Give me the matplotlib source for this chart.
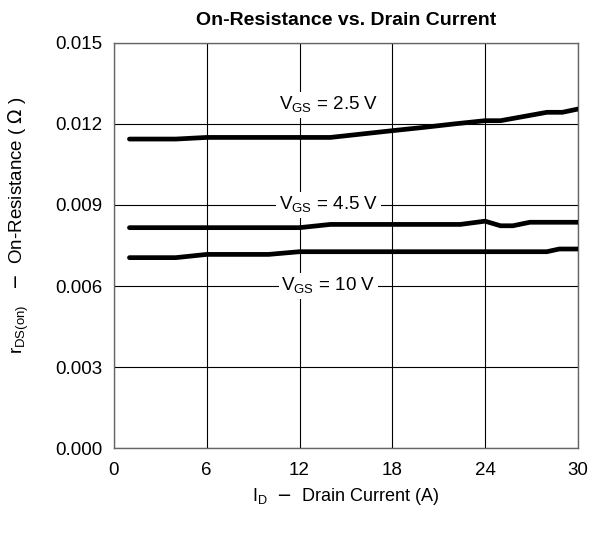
import matplotlib
matplotlib.use("Agg")
import matplotlib.pyplot as plt

plt.rcParams['font.family'] = ['Liberation Sans', 'DejaVu Sans']

# drain current (A) and on-resistance (ohm) for each gate voltage
id_25 = [1, 4, 6, 14, 18, 20, 22, 24, 25, 28, 29, 30]
r_25 = [0.01144, 0.01144, 0.0115, 0.0115, 0.01175, 0.01187, 0.0120, 0.01212, 0.01212, 0.01243, 0.01243, 0.01255]

id_45 = [1, 12, 14, 22.4, 24, 25, 25.8, 26.9, 30]
r_45 = [0.00816, 0.00816, 0.00828, 0.00828, 0.0084, 0.00823, 0.00823, 0.00836, 0.00836]

id_10 = [1, 4, 6, 10, 12, 28, 28.8, 30]
r_10 = [0.00705, 0.00705, 0.00717, 0.00717, 0.00727, 0.00727, 0.00737, 0.00737]

xticks = [0, 6, 12, 18, 24, 30]
yticks = [0.000, 0.003, 0.006, 0.009, 0.012, 0.015]

fs = 13.5

fig = plt.figure(figsize=(5.89, 5.36), dpi=100)
ax = fig.add_axes([0.1935, 0.164, 0.7875, 0.756])

for x, y in [(id_25, r_25), (id_45, r_45), (id_10, r_10)]:
    ax.plot(x, y, color='black', linewidth=3.4, solid_capstyle='round', solid_joinstyle='round', zorder=3)

ax.set_xlim(0, 30)
ax.set_ylim(0, 0.015)
ax.set_xticks(xticks)
ax.set_yticks(yticks)
ax.set_yticklabels(['%.3f' % v for v in yticks])
ax.grid(True, color='black', linewidth=0.8)
ax.tick_params(length=0, labelsize=fs)
ax.tick_params(axis='x', pad=10)
ax.tick_params(axis='y', pad=8)
for s in ax.spines.values():
    s.set_color('#666666')
    s.set_linewidth(1.0)

box = dict(facecolor='white', edgecolor='none', pad=2)
ax.text(13.87, 0.0127, r'V$_{\mathregular{GS}}$ = 2.5 V', ha='center', va='center', fontsize=fs, bbox=box, zorder=2)
ax.text(13.87, 0.0090, r'V$_{\mathregular{GS}}$ = 4.5 V', ha='center', va='center', fontsize=fs, bbox=box, zorder=2)
ax.text(13.87, 0.0060, r'V$_{\mathregular{GS}}$ = 10 V', ha='center', va='center', fontsize=fs, bbox=box, zorder=2)

ax.set_title('On-Resistance vs. Drain Current', fontsize=14, fontweight='bold', pad=13)
ax.set_xlabel(r'I$_{\mathregular{D}}$  $-$  Drain Current (A)', fontsize=13)
ax.set_ylabel(r'r$_{\mathregular{DS(on)}}$   $-$  On-Resistance ( $\Omega$ )', fontsize=13.5)
ax.xaxis.set_label_coords(0.5, -0.094)
ax.yaxis.set_label_coords(-0.178, 0.549)

fig.savefig('out.png', dpi=100)
